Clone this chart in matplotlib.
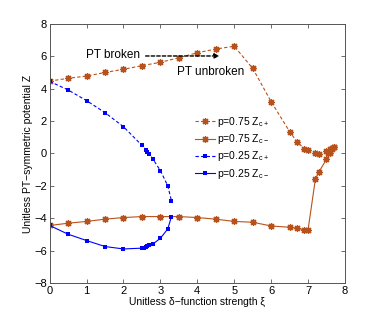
import numpy as np
from matplotlib import pyplot as plt

# p = 0.75
x_p75_plus = [0, 0.5, 1, 1.5, 2, 2.5, 3, 3.5, 4, 4.5, 5, 5.5, 6, 6.5, 6.7, 6.9, 7.0, 7.2, 7.3, 7.5, 7.55, 7.6, 7.65, 7.7]
z_p75_plus = [4.47, 4.64, 4.78, 5.0, 5.2, 5.42, 5.63, 5.91, 6.22, 6.45, 6.62, 5.26, 3.2, 1.35, 0.73, 0.28, 0.22, 0.02, -0.02, 0.18, 0.05, 0.3, 0.36, 0.4]
x_p75_minus = [0, 0.5, 1, 1.5, 2, 2.5, 3, 3.5, 4, 4.5, 5, 5.5, 6, 6.5, 6.7, 6.9, 7.0, 7.2, 7.3, 7.5, 7.6, 7.65, 7.7]
z_p75_minus = [-4.45, -4.31, -4.2, -4.06, -3.96, -3.9, -3.9, -3.9, -3.96, -4.06, -4.2, -4.25, -4.48, -4.56, -4.62, -4.72, -4.72, -1.57, -1.12, -0.36, 0.01, 0.25, 0.38]

# p = 0.25
x_p25_plus = [0, 0.5, 1, 1.5, 2, 2.5, 2.6, 2.65, 2.7, 2.8, 3.0, 3.2, 3.3]
z_p25_plus = [4.45, 3.92, 3.26, 2.52, 1.65, 0.5, 0.24, 0.1, -0.03, -0.36, -1.06, -2.0, -2.93]
x_p25_minus = [0, 0.5, 1, 1.5, 2, 2.5, 2.55, 2.6, 2.65, 2.7, 2.8, 3.0, 3.2, 3.3]
z_p25_minus = [-4.45, -4.99, -5.38, -5.75, -5.9, -5.85, -5.82, -5.78, -5.74, -5.68, -5.59, -5.24, -4.66, -3.9]

if __name__ == '__main__':
    plt.rcParams['font.family'] = ['Liberation Sans', 'DejaVu Sans']
    plt.rcParams['mathtext.fontset'] = 'custom'
    plt.rcParams['mathtext.rm'] = 'Liberation Sans'
    plt.rcParams['mathtext.it'] = 'Liberation Sans'

    fig = plt.figure(figsize=(3.82, 3.19), dpi=100)
    ax = fig.add_axes([0.130, 0.113, 0.773, 0.812])

    brown = '#b8521c'
    blue = '#0000ff'
    star = (8, 2, 0)
    dash = (3, 2)

    ax.plot(x_p75_plus, z_p75_plus, '--', dashes=dash, color=brown, lw=0.8, marker=star, ms=5, mew=0.9,
            label='p=0.75 Z$_{c+}$')
    ax.plot(x_p75_minus, z_p75_minus, '-', color=brown, lw=0.8, marker=star, ms=5, mew=0.9,
            label='p=0.75 Z$_{c\u2212}$')
    ax.plot(x_p25_plus, z_p25_plus, '--', dashes=dash, color=blue, lw=0.8, marker='s', ms=3, mew=0,
            label='p=0.25 Z$_{c+}$')
    ax.plot(x_p25_minus, z_p25_minus, '-', color=blue, lw=0.8, marker='s', ms=3, mew=0,
            label='p=0.25 Z$_{c\u2212}$')

    # PT broken -> unbroken annotation
    ax.annotate('', xy=(4.6, 6.02), xytext=(2.6, 6.02),
                arrowprops=dict(arrowstyle='-|>', ls=(0, (2.5, 1.5)), color='black', lw=1.0,
                                mutation_scale=7, shrinkA=0, shrinkB=0))
    ax.text(2.45, 6.1, 'PT broken', ha='right', va='center', fontsize=8.5)
    ax.text(3.45, 5.0, 'PT unbroken', ha='left', va='center', fontsize=8.5)

    ax.set_xlim(0, 8)
    ax.set_ylim(-8, 8)
    ax.set_xticks(range(0, 9))
    ax.set_yticks(range(-8, 9, 2))
    ax.tick_params(direction='in', top=True, right=True, labelsize=8, length=3, width=0.6,
                   color='#555555', pad=2)
    for s in ax.spines.values():
        s.set_color('#555555')
        s.set_linewidth(0.7)

    ax.set_xlabel('Unitless \u03b4\u2212function strength \u03be', fontsize=7.5, labelpad=1)
    ax.set_ylabel('Unitless PT\u2212symmetric potential Z', fontsize=7.5, labelpad=1)

    ax.legend(loc='upper left', bbox_to_anchor=(0.475, 0.668), frameon=False, fontsize=7.5,
              handlelength=1.9, handletextpad=0.2, labelspacing=0.3, borderpad=0)

    plt.savefig('out.png', dpi=100)
